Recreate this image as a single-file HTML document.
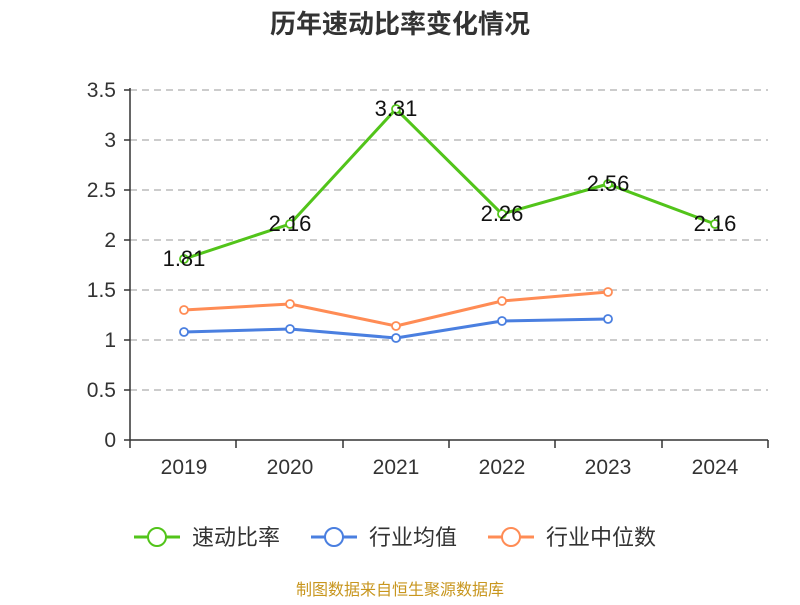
<!DOCTYPE html>
<html><head><meta charset="utf-8"><style>
body{margin:0;background:#fff;}
text{font-family:"Liberation Sans","Noto Sans CJK SC",sans-serif;}
</style></head><body>
<svg width="800" height="600" xmlns="http://www.w3.org/2000/svg">
<text x="400" y="33" text-anchor="middle" font-size="26" font-weight="bold" fill="#333">历年速动比率变化情况</text>
<g stroke="#bbb" stroke-dasharray="7,5" stroke-width="1.5">
<line x1="130" x2="768" y1="90" y2="90"/><line x1="130" x2="768" y1="140" y2="140"/>
<line x1="130" x2="768" y1="190" y2="190"/><line x1="130" x2="768" y1="240" y2="240"/>
<line x1="130" x2="768" y1="290" y2="290"/><line x1="130" x2="768" y1="340" y2="340"/>
<line x1="130" x2="768" y1="390" y2="390"/>
</g>
<g stroke="#333" stroke-width="1.5">
<line x1="130" y1="88" x2="130" y2="440"/><line x1="130" y1="440" x2="768" y2="440"/>
<line x1="124" x2="130" y1="90" y2="90"/><line x1="124" x2="130" y1="140" y2="140"/><line x1="124" x2="130" y1="190" y2="190"/><line x1="124" x2="130" y1="240" y2="240"/><line x1="124" x2="130" y1="290" y2="290"/><line x1="124" x2="130" y1="340" y2="340"/><line x1="124" x2="130" y1="390" y2="390"/><line x1="124" x2="130" y1="440" y2="440"/>
<line x1="130" x2="130" y1="440" y2="448"/><line x1="236" x2="236" y1="440" y2="448"/><line x1="343" x2="343" y1="440" y2="448"/><line x1="449" x2="449" y1="440" y2="448"/><line x1="555" x2="555" y1="440" y2="448"/><line x1="662" x2="662" y1="440" y2="448"/><line x1="768" x2="768" y1="440" y2="448"/>
</g>
<g font-size="21" fill="#333" text-anchor="end">
<text x="116" y="97">3.5</text><text x="116" y="147">3</text><text x="116" y="197">2.5</text><text x="116" y="247">2</text><text x="116" y="297">1.5</text><text x="116" y="347">1</text><text x="116" y="397">0.5</text><text x="116" y="447">0</text>
</g>
<g font-size="21" fill="#333" text-anchor="middle">
<text x="184" y="474">2019</text><text x="290" y="474">2020</text><text x="396" y="474">2021</text><text x="502" y="474">2022</text><text x="608" y="474">2023</text><text x="715" y="474">2024</text>
</g>
<g fill="none" stroke-width="3" stroke-linejoin="round">
<polyline stroke="#52c41a" points="184,259 290,224 396,109 502,214 608,184 715,224"/>
<polyline stroke="#ff8c55" points="184,310 290,304 396,326 502,301 608,292"/>
<polyline stroke="#4a7fe0" points="184,332 290,329 396,338 502,321 608,319"/>
</g>
<g fill="#fff" stroke-width="1.8">
<g stroke="#52c41a"><circle cx="184" cy="259" r="4"/><circle cx="290" cy="224" r="4"/><circle cx="396" cy="109" r="4"/><circle cx="502" cy="214" r="4"/><circle cx="608" cy="184" r="4"/><circle cx="715" cy="224" r="4"/></g>
<g stroke="#ff8c55"><circle cx="184" cy="310" r="4"/><circle cx="290" cy="304" r="4"/><circle cx="396" cy="326" r="4"/><circle cx="502" cy="301" r="4"/><circle cx="608" cy="292" r="4"/></g>
<g stroke="#4a7fe0"><circle cx="184" cy="332" r="4"/><circle cx="290" cy="329" r="4"/><circle cx="396" cy="338" r="4"/><circle cx="502" cy="321" r="4"/><circle cx="608" cy="319" r="4"/></g>
</g>
<g font-size="22" fill="#111" text-anchor="middle">
<text x="184" y="266">1.81</text><text x="290" y="231">2.16</text><text x="396" y="116">3.31</text><text x="502" y="221">2.26</text><text x="608" y="191">2.56</text><text x="715" y="231">2.16</text>
</g>
<g stroke-width="3" fill="#fff">
<line x1="134" x2="180" y1="537" y2="537" stroke="#52c41a"/><circle cx="157" cy="537" r="9" stroke="#52c41a" stroke-width="2"/>
<line x1="311" x2="357" y1="537" y2="537" stroke="#4a7fe0"/><circle cx="334" cy="537" r="9" stroke="#4a7fe0" stroke-width="2"/>
<line x1="488" x2="534" y1="537" y2="537" stroke="#ff8c55"/><circle cx="511" cy="537" r="9" stroke="#ff8c55" stroke-width="2"/>
</g>
<g font-size="22" fill="#333">
<text x="192" y="545">速动比率</text><text x="369" y="545">行业均值</text><text x="546" y="545">行业中位数</text>
</g>
<text x="400" y="595" text-anchor="middle" font-size="16" fill="#c8961e">制图数据来自恒生聚源数据库</text>
</svg>
</body></html>
